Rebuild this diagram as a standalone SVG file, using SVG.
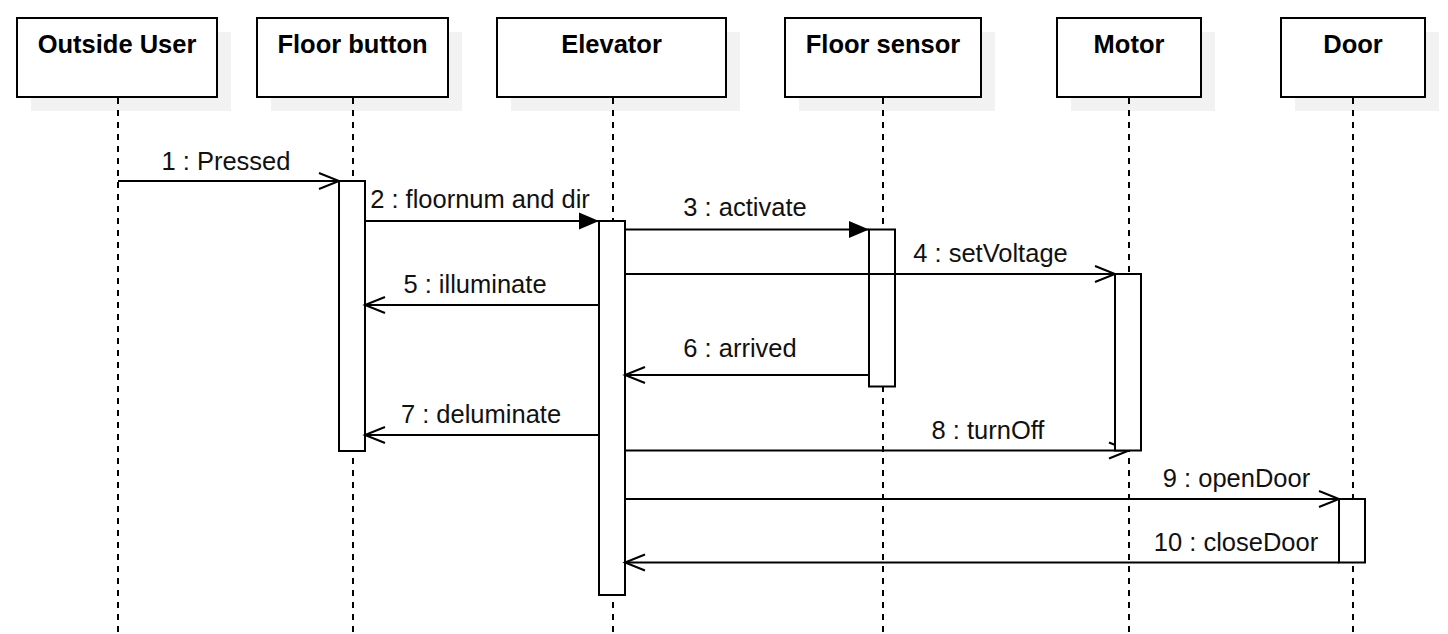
<svg xmlns="http://www.w3.org/2000/svg" width="1448" height="634" viewBox="0 0 1448 634">
<style>
.shadow{fill:#f2f2f2;stroke:none}
.box{fill:#fff;stroke:#000;stroke-width:2}
.title{font-family:"Liberation Sans",Arial,sans-serif;font-size:25.5px;font-weight:bold;fill:#000;text-anchor:middle}
.life{stroke:#000;stroke-width:2;stroke-dasharray:6 6;fill:none}
.msg{stroke:#000;stroke-width:2;fill:none}
.open{marker-end:url(#open)}
.filled{marker-end:url(#filled)}
.lbl{font-family:"Liberation Sans",Arial,sans-serif;font-size:25.5px;fill:#111;text-anchor:middle}
.act{fill:#fff;stroke:#000;stroke-width:2}
</style>
<defs>
<marker id="open" markerUnits="userSpaceOnUse" markerWidth="24" markerHeight="20" viewBox="0 0 24 20" refX="21" refY="9" orient="auto" overflow="visible">
<path d="M1,1 L21,9 L1,17" fill="none" stroke="#000" stroke-width="2"/>
</marker>
<marker id="filled" markerUnits="userSpaceOnUse" markerWidth="22" markerHeight="20" viewBox="0 0 22 20" refX="20" refY="8.5" orient="auto" overflow="visible">
<path d="M0,0 L20,8.5 L0,17 z" fill="#000" stroke="none"/>
</marker>
</defs>
<rect width="1448" height="634" fill="#fff"/>

<g id="outside-user">
<rect class="shadow" x="31" y="32" width="200" height="79"/>
<rect class="box" x="17" y="18" width="200" height="79"/>
<text class="title" x="117" y="53">Outside User</text>
<line class="life" x1="118" y1="98" x2="118" y2="634"/>
</g>
<g id="floor-button">
<rect class="shadow" x="271" y="32" width="191" height="79"/>
<rect class="box" x="257" y="18" width="191" height="79"/>
<text class="title" x="352.5" y="53">Floor button</text>
<line class="life" x1="353" y1="98" x2="353" y2="634"/>
</g>
<g id="elevator">
<rect class="shadow" x="511" y="32" width="229" height="79"/>
<rect class="box" x="497" y="18" width="229" height="79"/>
<text class="title" x="611.5" y="53">Elevator</text>
<line class="life" x1="613" y1="98" x2="613" y2="634"/>
</g>
<g id="floor-sensor">
<rect class="shadow" x="799" y="32" width="196" height="79"/>
<rect class="box" x="785" y="18" width="196" height="79"/>
<text class="title" x="883" y="53">Floor sensor</text>
<line class="life" x1="883" y1="98" x2="883" y2="634"/>
</g>
<g id="motor">
<rect class="shadow" x="1071" y="32" width="144" height="79"/>
<rect class="box" x="1057" y="18" width="144" height="79"/>
<text class="title" x="1129" y="53">Motor</text>
<line class="life" x1="1129" y1="98" x2="1129" y2="634"/>
</g>
<g id="door">
<rect class="shadow" x="1295" y="32" width="144" height="79"/>
<rect class="box" x="1281" y="18" width="144" height="79"/>
<text class="title" x="1353" y="53">Door</text>
<line class="life" x1="1353" y1="98" x2="1353" y2="634"/>
</g>

<g id="activations">
<rect class="act" x="339" y="181" width="26" height="270"/>
<rect class="act" x="599" y="221" width="26" height="374"/>
<rect class="act" x="869" y="229.5" width="26" height="157"/>
<rect class="act" x="1339" y="499" width="26" height="63.5"/>
</g>

<g id="connectors">
<line class="msg open" x1="118" y1="181" x2="339" y2="181"/>
<text class="lbl" x="226" y="169.5">1 : Pressed</text>
<line class="msg filled" x1="365" y1="221" x2="599" y2="221"/>
<text class="lbl" x="480" y="208">2 : floornum and dir</text>
<line class="msg filled" x1="625" y1="229.5" x2="869" y2="229.5"/>
<text class="lbl" x="745" y="216">3 : activate</text>
<line class="msg open" x1="625" y1="274" x2="1115" y2="274"/>
<text class="lbl" x="990.5" y="262">4 : setVoltage</text>
<line class="msg open" x1="599" y1="305" x2="365" y2="305"/>
<text class="lbl" x="475" y="293">5 : illuminate</text>
<line class="msg open" x1="869" y1="375" x2="625" y2="375"/>
<text class="lbl" x="740" y="356.5">6 : arrived</text>
<line class="msg open" x1="599" y1="435" x2="365" y2="435"/>
<text class="lbl" x="481" y="423">7 : deluminate</text>
<line class="msg open" x1="625" y1="450.5" x2="1129" y2="450.5"/>
<text class="lbl" x="988" y="439">8 : turnOff</text>
<line class="msg open" x1="625" y1="499" x2="1339" y2="499"/>
<text class="lbl" x="1236.5" y="486.5">9 : openDoor</text>
<line class="msg open" x1="1339" y1="562.5" x2="625" y2="562.5"/>
<text class="lbl" x="1236" y="551">10 : closeDoor</text>
</g>

<g id="motor-activation">
<rect class="act" x="1115" y="274" width="26" height="176.5"/>
</g>
</svg>
